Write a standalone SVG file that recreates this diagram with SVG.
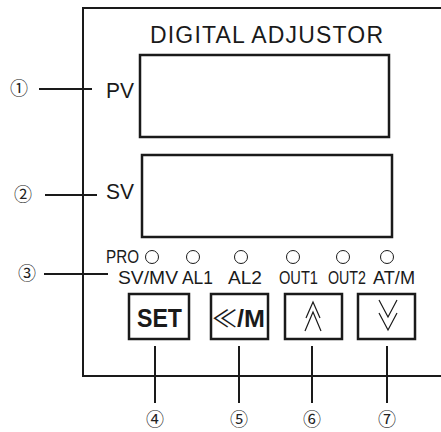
<svg xmlns="http://www.w3.org/2000/svg" width="441" height="432" viewBox="0 0 441 432">
<style>
.ln{stroke:#1a1a1a;stroke-width:2;fill:none}
.box{stroke:#1a1a1a;stroke-width:2.5;fill:#fff}
.led{stroke:#1a1a1a;stroke-width:1;fill:#fff}
.chev{stroke:#1a1a1a;stroke-width:1.2;fill:none}
.num{font-family:"Noto Sans CJK SC","DejaVu Sans",sans-serif;font-size:18px;fill:#222;text-anchor:middle}
.lab{font-family:"Liberation Sans",Arial,sans-serif;fill:#1a1a1a}
</style>
<rect width="441" height="432" fill="#fff"/>
<g id="frame">
<polyline class="ln" points="441,8 83,8 83,376 441,376"/>
<text class="lab" x="150" y="43" font-size="23" textLength="233" lengthAdjust="spacing">DIGITAL ADJUSTOR</text>
</g>
<g id="pv">
<rect class="box" x="140" y="55" width="249" height="82" stroke-width="2"/>
<text class="lab" x="106" y="98" font-size="22" textLength="28" lengthAdjust="spacingAndGlyphs">PV</text>
</g>
<g id="sv">
<rect class="box" x="142" y="155" width="250" height="82" stroke-width="2"/>
<text class="lab" x="106" y="199" font-size="22" textLength="28" lengthAdjust="spacingAndGlyphs">SV</text>
</g>
<g id="leds">
<text class="lab" x="106" y="263" font-size="18" textLength="33" lengthAdjust="spacingAndGlyphs">PRO</text>
<circle class="led" cx="152" cy="257" r="6.5"/>
<circle class="led" cx="193" cy="257" r="6.5"/>
<circle class="led" cx="241" cy="257" r="6.5"/>
<circle class="led" cx="293" cy="257" r="6.5"/>
<circle class="led" cx="343" cy="257" r="6.5"/>
<circle class="led" cx="387" cy="257" r="6.5"/>
<text class="lab" x="118" y="284" font-size="18" textLength="60" lengthAdjust="spacingAndGlyphs">SV/MV</text>
<text class="lab" x="182" y="284" font-size="18" textLength="31" lengthAdjust="spacingAndGlyphs">AL1</text>
<text class="lab" x="228" y="284" font-size="18" textLength="34" lengthAdjust="spacingAndGlyphs">AL2</text>
<text class="lab" x="279" y="284" font-size="18" textLength="39" lengthAdjust="spacingAndGlyphs">OUT1</text>
<text class="lab" x="328" y="284" font-size="18" textLength="38" lengthAdjust="spacingAndGlyphs">OUT2</text>
<text class="lab" x="373" y="284" font-size="18" textLength="42" lengthAdjust="spacingAndGlyphs">AT/M</text>
</g>
<g id="btn-set">
<rect class="box" x="129" y="294" width="60" height="45"/>
<text class="lab" x="137" y="327" font-size="25" font-weight="bold" textLength="45" lengthAdjust="spacingAndGlyphs">SET</text>
</g>
<g id="btn-shift">
<rect class="box" x="211" y="294" width="57" height="45"/>
<text class="lab" x="212" y="327" font-size="24" font-weight="bold" textLength="53" lengthAdjust="spacingAndGlyphs"><tspan font-weight="normal" font-family="Noto Sans CJK SC,DejaVu Sans,sans-serif" font-size="24">≪</tspan><tspan>/M</tspan></text>
</g>
<g id="btn-up">
<rect class="box" x="285" y="294" width="57" height="45"/>
<polyline class="chev" points="306,318 313,302 320,318"/>
<polyline class="chev" points="305,331 313,312 321,331"/>
</g>
<g id="btn-down">
<rect class="box" x="358" y="294" width="57" height="45"/>
<polyline class="chev" points="379,300 388,317 397,300"/>
<polyline class="chev" points="379,313 388,330 397,313"/>
</g>
<g id="connectors">
<line class="ln" x1="39" y1="89" x2="92" y2="89"/>
<line class="ln" x1="45" y1="195" x2="97" y2="195"/>
<line class="ln" x1="44" y1="274" x2="108" y2="274"/>
<line class="ln" x1="155" y1="346" x2="155" y2="403"/>
<line class="ln" x1="239" y1="346" x2="239" y2="403"/>
<line class="ln" x1="312" y1="346" x2="312" y2="403"/>
<line class="ln" x1="387" y1="346" x2="387" y2="403"/>
</g>
<g id="numbers">
<text class="num" x="19" y="95">①</text>
<text class="num" x="23" y="201">②</text>
<text class="num" x="27" y="280">③</text>
<text class="num" x="155" y="426">④</text>
<text class="num" x="239" y="426">⑤</text>
<text class="num" x="312" y="426">⑥</text>
<text class="num" x="387" y="426">⑦</text>
</g>
</svg>
